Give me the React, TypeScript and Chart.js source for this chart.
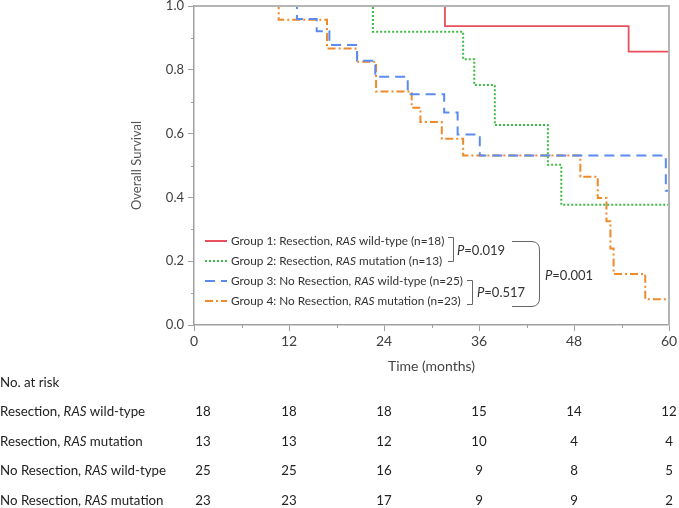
import React, { useEffect, useRef } from 'react';
import { Chart, registerables } from 'chart.js';

Chart.register(...registerables);

const FONT = 'Lato, "Noto Sans", sans-serif';

// Kaplan-Meier step data (months, survival)
const g1Months = [0, 31.7, 54.9, 60];
const g1Surv = [1, 0.937, 0.857, 0.857];

const g2Months = [0, 22.6, 34.0, 35.4, 38.0, 44.7, 46.4, 60];
const g2Surv = [1, 0.919, 0.833, 0.752, 0.627, 0.502, 0.377, 0.377];

const g3Months = [0, 13.0, 15.5, 17.1, 20.6, 22.9, 27.0, 31.6, 33.3, 36.1, 59.6, 60];
const g3Surv = [1, 0.959, 0.921, 0.878, 0.828, 0.778, 0.723, 0.666, 0.597, 0.531, 0.421, 0.421];

const g4Months = [0, 10.7, 16.8, 20.6, 23.0, 27.5, 28.6, 31.3, 34.0, 48.8, 51.0, 52.1, 52.6, 53.0, 57.0, 60];
const g4Surv = [1, 0.957, 0.867, 0.825, 0.732, 0.681, 0.636, 0.584, 0.531, 0.465, 0.398, 0.325, 0.24, 0.16, 0.081, 0.081];

const groupColors = ['#E8505D', '#3DBB44', '#5B8BEF', '#EE8A2A'];
const groupDashes: number[][] = [[], [2, 2], [10, 6], [8, 3, 2, 3]];
const groupPrefixes = ['Group 1: Resection, ', 'Group 2: Resection, ', 'Group 3: No Resection, ', 'Group 4: No Resection, '];
const groupSuffixes = [' wild-type (n=18)', ' mutation (n=13)', ' wild-type (n=25)', ' mutation (n=23)'];

const pValues = ['0.019', '0.517', '0.001'];

const riskTitle = 'No. at risk';
const riskPrefixes = ['Resection, ', 'Resection, ', 'No Resection, ', 'No Resection, '];
const riskSuffixes = [' wild-type', ' mutation', ' wild-type', ' mutation'];
const riskTimes = [0, 12, 24, 36, 48, 60];
const risk1 = [18, 18, 18, 15, 14, 12];
const risk2 = [13, 13, 12, 10, 4, 4];
const risk3 = [25, 25, 16, 9, 8, 5];
const risk4 = [23, 23, 17, 9, 9, 2];
const riskRows = [risk1, risk2, risk3, risk4];

const yMinorTicks = [0.1, 0.3, 0.5, 0.7, 0.9];
const xMinorTicks = [6, 18, 30, 42, 54];

function drawMixed(ctx: CanvasRenderingContext2D, parts: [string, boolean][], x: number, y: number, size: number, color: string) {
  let cx = x;
  ctx.fillStyle = color;
  ctx.textBaseline = 'middle';
  ctx.textAlign = 'left';
  for (const [t, it] of parts) {
    ctx.font = `${it ? 'italic ' : ''}${size}px ${FONT}`;
    ctx.fillText(t, cx, y);
    cx += ctx.measureText(t).width;
  }
  return cx;
}

const overlayPlugin = {
  id: 'overlay',
  afterDraw(chart: any) {
    const { ctx, chartArea: ca, scales } = chart;
    const xs = scales.x;
    const ys = scales.y;
    ctx.save();
    // top / right frame
    ctx.strokeStyle = '#b4b4b4';
    ctx.lineWidth = 2;
    ctx.beginPath();
    ctx.moveTo(ca.left, ca.top);
    ctx.lineTo(ca.right, ca.top);
    ctx.lineTo(ca.right, ca.bottom);
    ctx.stroke();

    // minor ticks
    ctx.strokeStyle = '#a0a0a0';
    ctx.lineWidth = 1;
    ctx.beginPath();
    for (const v of yMinorTicks) {
      const py = Math.round(ys.getPixelForValue(v)) + 0.5;
      ctx.moveTo(ca.left - 3, py);
      ctx.lineTo(ca.left, py);
    }
    for (const v of xMinorTicks) {
      const px = Math.round(xs.getPixelForValue(v)) + 0.5;
      ctx.moveTo(px, ca.bottom);
      ctx.lineTo(px, ca.bottom + 3);
    }
    ctx.stroke();

    // legend
    const rowY = [241, 261, 281, 301];
    for (let i = 0; i < 4; i++) {
      ctx.strokeStyle = groupColors[i];
      ctx.lineWidth = 2;
      ctx.setLineDash(groupDashes[i]);
      ctx.beginPath();
      ctx.moveTo(205, rowY[i]);
      ctx.lineTo(227, rowY[i]);
      ctx.stroke();
      ctx.setLineDash([]);
      drawMixed(ctx, [[groupPrefixes[i], false], ['RAS', true], [groupSuffixes[i], false]], 231, rowY[i], 11.8, '#333');
    }

    // brackets
    ctx.strokeStyle = '#666';
    ctx.lineWidth = 1;
    ctx.beginPath();
    ctx.moveTo(448, 237.5);
    ctx.lineTo(453.5, 237.5);
    ctx.lineTo(453.5, 261.5);
    ctx.lineTo(448, 261.5);
    ctx.moveTo(467, 280.5);
    ctx.lineTo(472.5, 280.5);
    ctx.lineTo(472.5, 304.5);
    ctx.lineTo(467, 304.5);
    ctx.moveTo(512, 241.5);
    ctx.lineTo(532, 241.5);
    ctx.quadraticCurveTo(539.5, 242, 539.5, 250);
    ctx.lineTo(539.5, 298);
    ctx.quadraticCurveTo(539.5, 306, 532, 306.5);
    ctx.lineTo(512, 306.5);
    ctx.stroke();
    drawMixed(ctx, [['P', true], ['=' + pValues[0], false]], 457, 250.5, 13, '#333');
    drawMixed(ctx, [['P', true], ['=' + pValues[1], false]], 477, 293, 13, '#333');
    drawMixed(ctx, [['P', true], ['=' + pValues[2], false]], 545, 276, 13, '#333');

    // risk table
    const tableY = [412, 441.5, 471, 501];
    drawMixed(ctx, [[riskTitle, false]], 0, 383, 13.3, '#222');
    for (let r = 0; r < 4; r++) {
      drawMixed(ctx, [[riskPrefixes[r], false], ['RAS', true], [riskSuffixes[r], false]], 0, tableY[r], 13.3, '#222');
      ctx.font = `13.3px ${FONT}`;
      ctx.textAlign = 'center';
      ctx.fillStyle = '#222';
      for (let c = 0; c < riskTimes.length; c++) {
        const px = Math.max(xs.getPixelForValue(riskTimes[c]), ca.left + 9);
        ctx.fillText(String(riskRows[r][c]), px, tableY[r]);
      }
    }
    ctx.restore();
  },
};

function mk(months: number[], surv: number[]) {
  return months.map((m, i) => ({ x: m, y: surv[i] }));
}

export default function App() {
  const ref = useRef<HTMLCanvasElement>(null);
  useEffect(() => {
    const canvas = ref.current!;
    const datasets = [
      mk(g1Months, g1Surv),
      mk(g2Months, g2Surv),
      mk(g3Months, g3Surv),
      mk(g4Months, g4Surv),
    ].map((d, i) => ({
      label: groupPrefixes[i] + 'RAS' + groupSuffixes[i],
      data: d,
      borderColor: groupColors[i],
      borderWidth: i === 0 ? 1.8 : 2,
      borderDash: groupDashes[i],
      pointRadius: 0,
      stepped: 'before' as const,
      fill: false,
    }));
    const chart = new Chart(canvas, {
      type: 'line',
      data: { datasets },
      options: {
        animation: false,
        responsive: false,
        maintainAspectRatio: false,
        devicePixelRatio: 1,
        layout: { padding: { left: 125, right: 10, top: 6, bottom: 129 } },
        plugins: { legend: { display: false }, tooltip: { enabled: false } },
        scales: {
          x: {
            type: 'linear',
            min: 0,
            max: 60,
            ticks: { stepSize: 12, color: '#404040', font: { family: FONT, size: 14 }, padding: 2, maxRotation: 0 },
            grid: { drawOnChartArea: false, color: '#a0a0a0', tickLength: 6 },
            border: { color: '#a0a0a0', width: 1.5 },
            title: { display: true, text: 'Time (months)', color: '#444', font: { family: FONT, size: 14 } },
            afterFit: (s: any) => { s.height = 54; s.paddingLeft = 0; s.paddingRight = 0; },
          },
          y: {
            type: 'linear',
            min: 0,
            max: 1,
            ticks: { stepSize: 0.2, color: '#404040', font: { family: FONT, size: 13 }, padding: 4, callback: (v: any) => Number(v).toFixed(1) },
            grid: { drawOnChartArea: false, color: '#a0a0a0', tickLength: 6 },
            border: { color: '#a0a0a0', width: 1.5 },
            title: { display: true, text: 'Overall Survival', color: '#555', font: { family: FONT, size: 13 } },
            afterFit: (s: any) => { s.width = 69; s.paddingTop = 0; s.paddingBottom = 0; },
          },
        },
      },
      plugins: [overlayPlugin],
    });
    return () => chart.destroy();
  }, []);
  return (
    <div style={{ position: 'fixed', left: 0, top: 0, width: 679, height: 508, background: '#fff' }}>
      <canvas ref={ref} width={679} height={508} style={{ width: 679, height: 508, display: 'block' }} />
    </div>
  );
}
